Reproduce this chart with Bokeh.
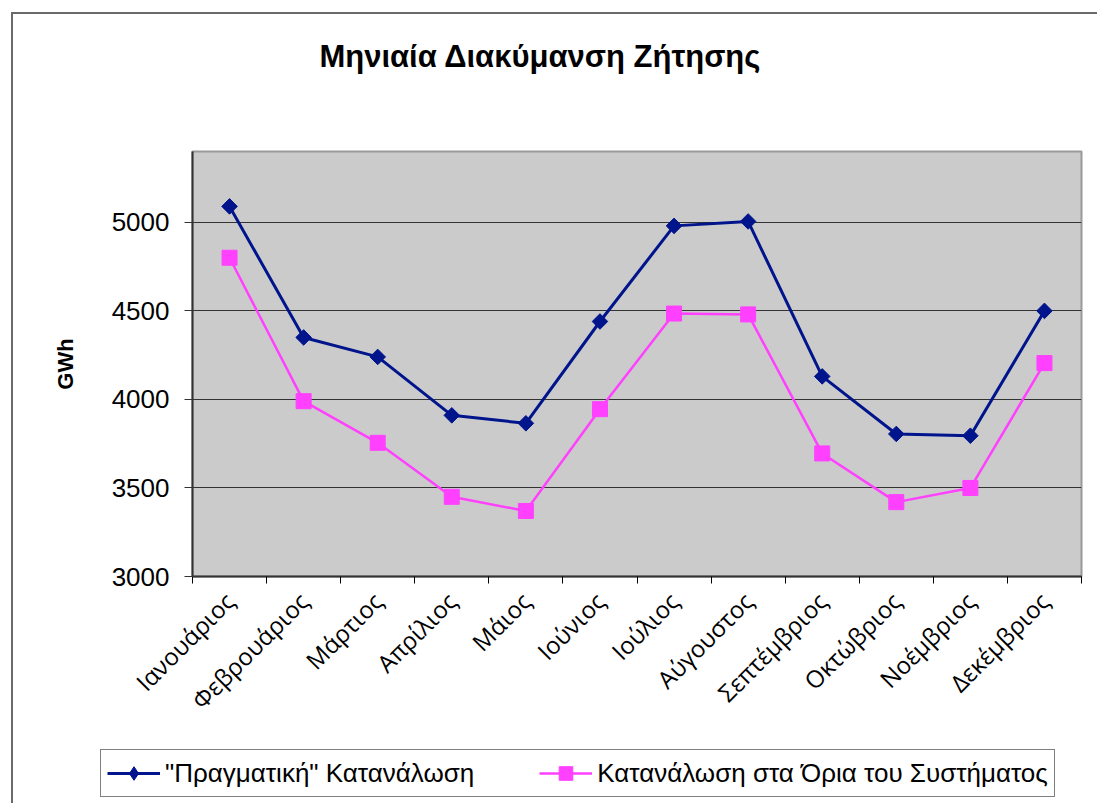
import math
from bokeh.plotting import figure
from bokeh.layouts import column
from bokeh.models import (FixedTicker, CustomJSTickFormatter, Legend, LegendItem,
                          Range1d, Label)
from bokeh.embed import file_html
from bokeh.resources import INLINE

# ---------------- data ----------------
months = ["Ιανουάριος", "Φεβρουάριος", "Μάρτιος", "Απρίλιος", "Μάιος", "Ιούνιος",
          "Ιούλιος", "Αύγουστος", "Σεπτέμβριος", "Οκτώβριος", "Νοέμβριος", "Δεκέμβριος"]
actual = [5090, 4350, 4240, 3910, 3865, 4440, 4980, 5005, 4130, 3805, 3795, 4500]
system = [4800, 3990, 3755, 3450, 3370, 3945, 4485, 4480, 3695, 3420, 3500, 4205]
y_ticks = [3000, 3500, 4000, 4500, 5000]
series_names = ['"Πραγματική" Κατανάλωση', 'Κατανάλωση στα Όρια του Συστήματος']
title_text = "Μηνιαία Διακύμανση Ζήτησης"
y_label = "GWh"

BLUE = "#00148C"
PINK = "#FF40FF"
ARIAL = "Liberation Sans"
BORDER = "2px solid #6a6a6a"
W = 1084

x = [i + 0.5 for i in range(len(months))]

# ---------------- title strip (frame aligned with the chart frame) ----------------
tfig = figure(width=W, height=81, x_range=Range1d(0, 1), y_range=Range1d(0, 1),
              output_backend="svg", toolbar_location=None,
              x_axis_location=None, y_axis_location=None,
              min_border_left=0, min_border_right=0, min_border_top=0,
              min_border_bottom=0)
tfig.grid.visible = False
tfig.outline_line_color = None
tfig.add_layout(Label(x=348, y=39, x_units="screen", y_units="screen", text=title_text,
                      text_align="center", text_baseline="middle", text_font=ARIAL,
                      text_font_style="bold", text_font_size="31px",
                      text_color="black"))

# ---------------- main chart ----------------
p = figure(width=W, height=650, x_range=Range1d(0, len(months)),
           y_range=Range1d(3000, 5400), output_backend="svg", toolbar_location=None,
           min_border_left=179, min_border_right=16, min_border_top=56,
           min_border_bottom=169)
p.background_fill_color = "#CBCBCB"
p.border_fill_color = "white"
p.outline_line_color = "#999999"
p.outline_line_width = 2

p.xgrid.visible = False
p.ygrid.ticker = FixedTicker(ticks=y_ticks)
p.ygrid.grid_line_color = "#333333"
p.ygrid.grid_line_width = 1

yax = p.yaxis[0]
yax.ticker = FixedTicker(ticks=y_ticks)
yax.major_label_text_font = ARIAL
yax.major_label_text_font_size = "26px"
yax.major_label_text_color = "black"
yax.major_tick_out = 8
yax.major_tick_in = 0
yax.minor_tick_out = 0
yax.minor_tick_in = 0
yax.major_tick_line_color = "#333333"
yax.axis_line_color = "#333333"
yax.axis_line_width = 2
yax.major_label_standoff = 15
yax.axis_label = y_label
yax.axis_label_text_font = ARIAL
yax.axis_label_text_font_style = "bold"
yax.axis_label_text_font_size = "22px"
yax.axis_label_text_color = "black"
yax.axis_label_standoff = 31

xax = p.xaxis[0]
xax.ticker = FixedTicker(ticks=x, minor_ticks=list(range(len(months) + 1)))
xax.formatter = CustomJSTickFormatter(args=dict(months=months),
                                      code="return months[Math.floor(tick)];")
xax.major_label_orientation = math.pi / 4
xax.major_label_text_font = "Open Sans"
xax.major_label_text_font_size = "24px"
xax.major_label_text_color = "black"
xax.major_tick_out = 0
xax.major_tick_in = 0
xax.minor_tick_out = 7
xax.minor_tick_in = 0
xax.minor_tick_line_color = "black"
xax.axis_line_color = "#333333"
xax.axis_line_width = 2
xax.major_label_standoff = 13

p.line(x, actual, line_color=BLUE, line_width=3)
p.scatter(x, actual, marker="square", angle=math.pi / 4, size=11,
          fill_color=BLUE, line_color=BLUE)
p.line(x, system, line_color=PINK, line_width=2.5)
p.scatter(x, system, marker="square", size=15, fill_color=PINK, line_color=PINK)

top = column(tfig, p, spacing=0)
top.styles = {"border-top": BORDER, "border-left": BORDER,
              "margin-left": "11px", "margin-top": "12px"}

# ---------------- legend strip (separate root, full-width frame) ----------------
lfig = figure(width=W, height=58, x_range=Range1d(100, 101), y_range=Range1d(0, 1),
              output_backend="svg", toolbar_location=None,
              x_axis_location=None, y_axis_location=None,
              min_border_left=0, min_border_right=0, min_border_top=0,
              min_border_bottom=0)
lfig.grid.visible = False
lfig.outline_line_color = None
l1 = lfig.line(x, actual, line_color=BLUE, line_width=3)
m1 = lfig.scatter(x, actual, marker="diamond", size=11, fill_color=BLUE, line_color=BLUE)
l2 = lfig.line(x, system, line_color=PINK, line_width=2.5)
m2 = lfig.scatter(x, system, marker="square", size=15, fill_color=PINK, line_color=PINK)

legend = Legend(items=[LegendItem(label=series_names[0], renderers=[l1, m1]),
                       LegendItem(label=series_names[1], renderers=[l2, m2])],
                orientation="horizontal", location=(87, 6))
legend.label_text_font = ARIAL
legend.label_text_font_size = "26px"
legend.label_text_color = "black"
legend.padding = 6
legend.margin = 0
legend.spacing = 65
legend.glyph_width = 53
legend.glyph_height = 34
legend.label_height = 34
legend.label_standoff = 5
legend.border_line_color = "black"
legend.border_line_width = 1
legend.background_fill_color = "white"
legend.background_fill_alpha = 1
lfig.add_layout(legend, "center")
lfig.styles = {"border-left": BORDER, "margin-left": "11px"}

open("out.html", "w").write(file_html([top, lfig], INLINE))
